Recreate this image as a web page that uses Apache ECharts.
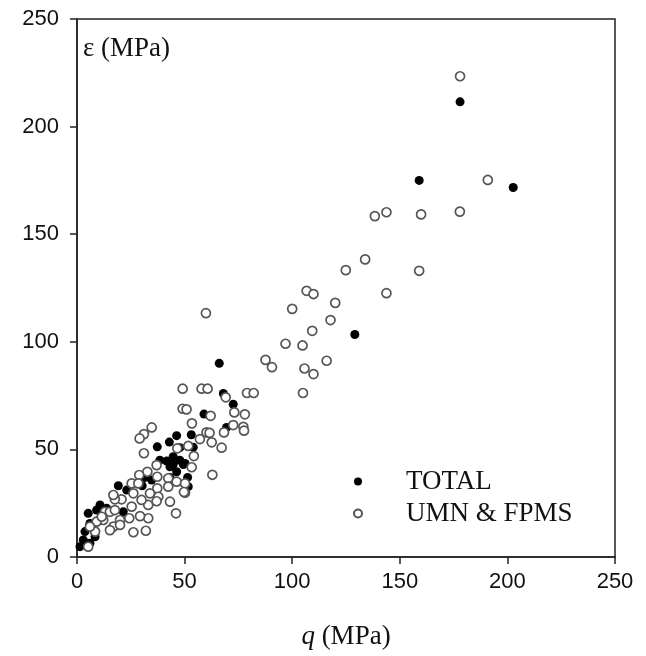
<!DOCTYPE html>
<html>
<head>
<meta charset="utf-8">
<script src="https://cdn.jsdelivr.net/npm/echarts@6/dist/echarts.min.js"></script>
<style>
  html, body { margin: 0; padding: 0; background: #fff; }
  #chart { width: 646px; height: 656px; }
</style>
</head>
<body>
<div id="chart"></div>
<script>
// q (MPa), eps (MPa) pairs
const totalPoints = [
  [178, 211.5], [159, 175], [202.7, 171.7], [129.1, 103.4], [66.1, 90],
  [68, 76], [72.6, 71], [59, 66.4], [69.5, 60.2], [37.3, 51.2],
  [46.3, 56.4], [42.9, 53.4], [53.1, 56.8], [54, 51], [47.8, 50.8],
  [38.5, 45], [44.7, 46.6], [47.8, 45], [50.2, 43.5], [41.7, 44.6],
  [44.7, 43], [49.4, 43], [43.2, 41.9], [46.3, 39.6], [51.4, 37],
  [43.2, 37], [34.7, 35.8], [30.3, 33.1], [31.6, 37], [51.7, 32.7],
  [19.2, 33.1], [23.1, 31.1], [21.5, 21], [10.7, 24.2], [9.1, 21.8],
  [13.8, 22.6], [5.2, 20.3], [6, 15.6], [3.7, 11.8], [2.9, 7.9],
  [1.4, 4.8], [8.4, 9.4], [6, 6.4]
];

const umnFpmsPoints = [
  [178, 223.4], [190.9, 175.2], [138.4, 158.4], [143.8, 160.2], [159.9, 159.2],
  [177.9, 160.5], [124.9, 133.3], [133.9, 138.3], [159, 133], [106.7, 123.7],
  [109.9, 122.2], [100, 115.3], [120, 118.1], [143.8, 122.6], [117.8, 110.1],
  [109.3, 105.1], [96.9, 99.1], [104.8, 98.3], [116, 91.2], [59.9, 113.3],
  [87.6, 91.6], [90.6, 88.2], [105.7, 87.6], [109.9, 85], [105, 76.2],
  [49.1, 78.2], [57.9, 78.2], [60.7, 78.2], [69.1, 74.2], [79, 76.2],
  [82.1, 76.2], [49.1, 68.9], [50.9, 68.6], [62.1, 65.6], [73.1, 67.2],
  [78, 66.3], [53.4, 62.1], [34.7, 60.2], [31.1, 57.1], [29.1, 55.1],
  [31.1, 48.2], [60.2, 57.9], [57.1, 54.8], [62.6, 53.3], [67.2, 50.8],
  [68.3, 57.9], [72.6, 61.3], [77.3, 60.5], [77.6, 58.7], [62.9, 38.2],
  [46.6, 50.5], [51.7, 51.6], [54.3, 46.9], [53.3, 41.7], [37, 42.7],
  [32.7, 39.6], [28.9, 38.1], [25.4, 34.2], [28.5, 34.2], [37.3, 37.3],
  [37.3, 31.9], [33.9, 29.6], [42.4, 36.6], [46.3, 35], [50.2, 34.2],
  [50.2, 29.9], [42.4, 32.7], [43.2, 25.7], [46, 20.3], [37.8, 28],
  [33.1, 24.2], [30, 26.5], [33.1, 18], [32, 12.2], [26.2, 11.5],
  [25.4, 23.4], [24.3, 18], [20.7, 26.8], [17.6, 26.8], [16.9, 28.8],
  [20, 17.2], [16.9, 14.1], [15.3, 12.5], [20, 14.9], [12.2, 17.2],
  [13, 21], [15.3, 21], [26.2, 29.6], [9.1, 16.4], [8.4, 11.8],
  [6, 14.1], [5.2, 4.8], [11.5, 18.7], [17.6, 21.8], [61.6, 57.7],
  [49.7, 30.2], [37, 25.9], [29.3, 19]
];

const axisTicks = [0, 50, 100, 150, 200, 250];
const seriesNames = ["TOTAL", "UMN & FPMS"];

const chart = echarts.init(document.getElementById("chart"));

const sans = "Liberation Sans, Arial, sans-serif";
const serif = "Liberation Serif, Times New Roman, serif";
const axisColor = "#222";

chart.setOption({
  animation: false,
  backgroundColor: "#fff",
  grid: {
    left: 77,
    right: 31,
    top: 19,
    bottom: 99,
    show: true,
    borderColor: axisColor,
    borderWidth: 1.5,
  },
  legend: {
    orient: "vertical",
    left: 348,
    top: 463,
    itemWidth: 8,
    itemHeight: 8,
    itemGap: 5,
    data: seriesNames,
    textStyle: {
      fontFamily: serif,
      fontSize: 27,
      color: "#111",
      padding: [0, 0, 0, 39],
    },
  },
  xAxis: {
    type: "value",
    min: axisTicks[0],
    max: axisTicks[axisTicks.length - 1],
    interval: 50,
    name: "{i|q} (MPa)",
    nameLocation: "middle",
    nameGap: 66,
    nameTextStyle: {
      fontFamily: serif,
      fontSize: 27,
      color: "#111",
      rich: {
        i: { fontFamily: serif, fontSize: 27, fontStyle: "italic", color: "#111" },
      },
    },
    axisLine: { lineStyle: { color: axisColor, width: 1.5 } },
    axisTick: { show: true, length: 7, lineStyle: { color: axisColor, width: 1.5 } },
    axisLabel: { fontFamily: sans, fontSize: 22, color: "#111", margin: 14 },
    splitLine: { show: false },
  },
  yAxis: {
    type: "value",
    min: axisTicks[0],
    max: axisTicks[axisTicks.length - 1],
    interval: 50,
    name: "ε (MPa)",
    nameLocation: "end",
    nameGap: -30,
    nameTextStyle: {
      fontFamily: serif,
      fontSize: 27,
      color: "#111",
      align: "left",
      verticalAlign: "middle",
      padding: [0, 0, 0, 6],
    },
    axisLine: { lineStyle: { color: axisColor, width: 1.5 } },
    axisTick: { show: true, length: 7, lineStyle: { color: axisColor, width: 1.5 } },
    axisLabel: { fontFamily: sans, fontSize: 22, color: "#111", margin: 18 },
    splitLine: { show: false },
  },
  series: [
    {
      name: seriesNames[0],
      type: "scatter",
      data: totalPoints,
      symbol: "circle",
      symbolSize: 9,
      itemStyle: { color: "#000", opacity: 1 },
      z: 2,
    },
    {
      name: seriesNames[1],
      type: "scatter",
      data: umnFpmsPoints,
      symbol: "circle",
      symbolSize: 9,
      itemStyle: { color: "#fff", borderColor: "#555", borderWidth: 1.7, opacity: 1 },
      z: 3,
    },
  ],
});
</script>
</body>
</html>
